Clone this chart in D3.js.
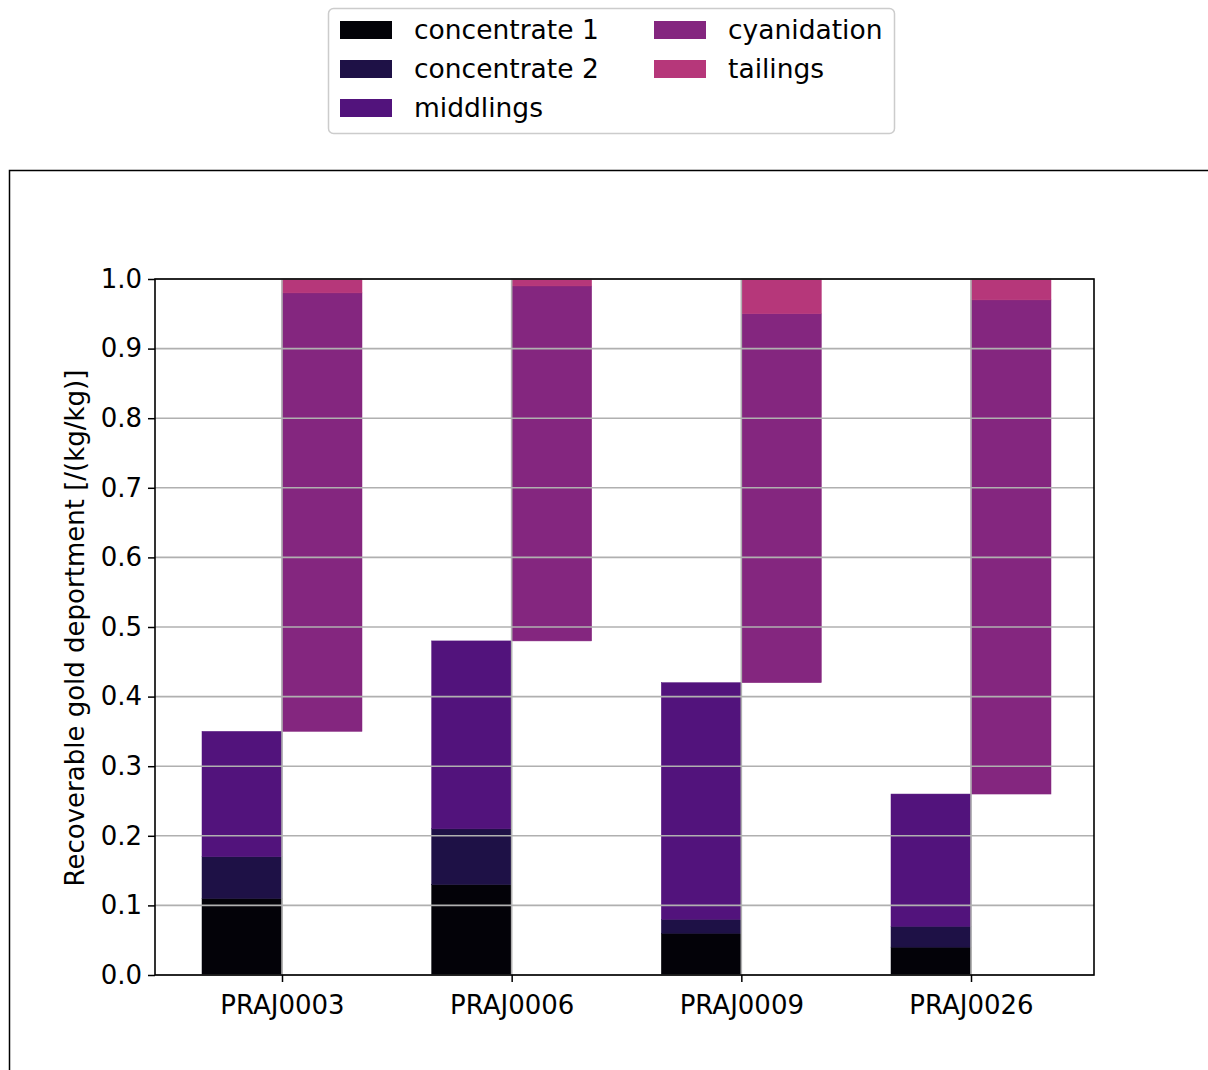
<!DOCTYPE html>
<html><head><meta charset="utf-8">
<script src="https://cdn.jsdelivr.net/npm/d3@7"></script>
<style>body{margin:0;background:#fff;}svg{display:block;font-family:"DejaVu Sans",sans-serif;}</style>
</head><body>
<svg id="c" width="1208" height="1070"></svg>
<script>
const categories = ["PRAJ0003","PRAJ0006","PRAJ0009","PRAJ0026"];
const concentrate1 = [0.11, 0.13, 0.06, 0.04];
const concentrate2 = [0.06, 0.08, 0.02, 0.03];
const middlings = [0.18, 0.27, 0.34, 0.19];
const cyanidation = [0.63, 0.51, 0.53, 0.71];
const tailings = [0.02, 0.01, 0.05, 0.03];
const yTicks = [0.0,0.1,0.2,0.3,0.4,0.5,0.6,0.7,0.8,0.9,1.0];
const seriesNames = ["concentrate 1","concentrate 2","middlings","cyanidation","tailings"];
const colors = ["#030208","#1e1146","#52137c","#84267f","#b6377a"];

const svg = d3.select("#c");
const L=155,R=1094,T=279,B=975;
const x = d3.scalePoint().domain(categories).range([282,971]);
const y = d3.scaleLinear().domain([0,1]).range([B,T]);
const bw = 80;
const center = c => x(c);

// outer frame
svg.append("rect").attr("x",9.5).attr("y",170.5).attr("width",1300).attr("height",1000)
  .attr("fill","none").attr("stroke","#000").attr("stroke-width",1.5);

// bars
const leftSeries = [concentrate1, concentrate2, middlings];
const g = svg.append("g");
categories.forEach((c,i)=>{
  let base = 0;
  leftSeries.forEach((arr,k)=>{
    g.append("rect").attr("x",center(c)-bw).attr("width",bw)
      .attr("y",y(base+arr[i])).attr("height",y(base)-y(base+arr[i]))
      .attr("fill",colors[k]).attr("stroke",colors[k]).attr("stroke-width",0.5);
    base += arr[i];
  });
  const top = base;
  g.append("rect").attr("x",center(c)).attr("width",bw)
    .attr("y",y(top+cyanidation[i])).attr("height",y(top)-y(top+cyanidation[i]))
    .attr("fill",colors[3]).attr("stroke",colors[3]).attr("stroke-width",0.5);
  const t2 = top+cyanidation[i];
  g.append("rect").attr("x",center(c)).attr("width",bw)
    .attr("y",y(Math.min(1,t2+tailings[i]))).attr("height",y(t2)-y(Math.min(1,t2+tailings[i])))
    .attr("fill",colors[4]).attr("stroke",colors[4]).attr("stroke-width",0.5);
});

// grid
const grid = svg.append("g");
yTicks.forEach(v=>{
  grid.append("line").attr("x1",L).attr("x2",R).attr("y1",y(v)).attr("y2",y(v))
    .attr("stroke","#b0b0b0").attr("stroke-width",1.6);
});
categories.forEach(c=>{
  grid.append("line").attr("x1",center(c)).attr("x2",center(c)).attr("y1",T).attr("y2",B)
    .attr("stroke","#b0b0b0").attr("stroke-width",1.6);
});

// axes
const yAxis = d3.axisLeft(y).tickValues(yTicks).tickFormat(d3.format(".1f")).tickSize(7).tickPadding(6);
const ya = svg.append("g").attr("transform",`translate(${L},0)`).call(yAxis);
ya.select(".domain").remove();
ya.selectAll("line").attr("stroke","#000").attr("stroke-width",1.5);
ya.selectAll("text").attr("font-size",26).attr("fill","#000").attr("font-family","DejaVu Sans");

const xAxis = d3.axisBottom(x).tickSize(7).tickPadding(14);
const xa = svg.append("g").attr("transform",`translate(0,${B})`).call(xAxis);
xa.select(".domain").remove();
xa.selectAll("line").attr("stroke","#000").attr("stroke-width",1.5);
xa.selectAll("text").attr("font-size",26).attr("fill","#000").attr("font-family","DejaVu Sans");

svg.append("rect").attr("x",L).attr("y",T).attr("width",R-L).attr("height",B-T)
  .attr("fill","none").attr("stroke","#000").attr("stroke-width",1.6);

// y label
svg.append("text").attr("transform",`translate(84,${(T+B)/2 + 1}) rotate(-90)`)
  .attr("text-anchor","middle").attr("font-size",26).attr("fill","#000")
  .text("Recoverable gold deportment [/(kg/kg)]");

// legend
const lg = svg.append("g");
lg.append("rect").attr("x",328.5).attr("y",8.5).attr("width",566).attr("height",125).attr("rx",5)
  .attr("fill","#fff").attr("stroke","#cccccc").attr("stroke-width",1.5);
const pos = [[340,30],[340,69],[340,108],[654,30],[654,69]];
seriesNames.forEach((n,k)=>{
  const [px,py]=pos[k];
  lg.append("rect").attr("x",px).attr("y",py-9).attr("width",52).attr("height",18).attr("fill",colors[k]);
  lg.append("text").attr("x",px+74).attr("y",py+9).attr("font-size",26.5).attr("fill","#000").text(n);
});
</script>
</body></html>
